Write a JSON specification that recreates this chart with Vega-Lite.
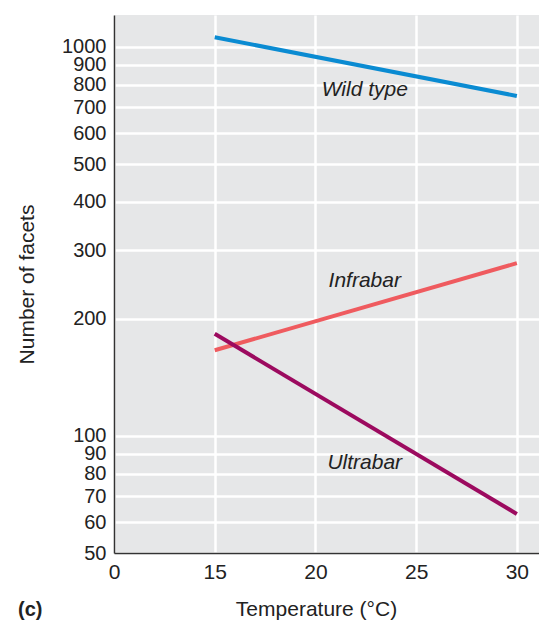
{
  "$schema": "https://vega.github.io/schema/vega-lite/v6.json",
  "width": 425,
  "height": 538,
  "autosize": {"type": "none"},
  "padding": {"left": 114, "top": 15, "right": 0, "bottom": 71},
  "background": "white",
  "config": {
    "font": "Liberation Sans",
    "view": {"fill": "#e6e7e8", "stroke": null},
    "axis": {"labelFont": "Liberation Sans", "titleFont": "Liberation Sans"}
  },
  "title": {
    "text": "(c)",
    "orient": "bottom",
    "anchor": "start",
    "frame": "bounds",
    "fontSize": 20,
    "fontWeight": "bold",
    "color": "#222",
    "offset": 0,
    "dy": -19,
    "dx": 2
  },
  "datasets": {
    "lines": [
      {"series": "Wild type", "temp": 15, "facets": 1059},
      {"series": "Wild type", "temp": 30, "facets": 748},
      {"series": "Infrabar", "temp": 15, "facets": 166},
      {"series": "Infrabar", "temp": 30, "facets": 278},
      {"series": "Ultrabar", "temp": 15, "facets": 183},
      {"series": "Ultrabar", "temp": 30, "facets": 63}
    ],
    "labels": [
      {"series": "Wild type", "temp": 22.45, "facets": 775},
      {"series": "Infrabar", "temp": 22.45, "facets": 250},
      {"series": "Ultrabar", "temp": 22.45, "facets": 85}
    ]
  },
  "layer": [
    {
      "data": {"name": "lines"},
      "mark": {"type": "line", "strokeWidth": 4, "strokeCap": "butt"},
      "encoding": {
        "x": {
          "field": "temp",
          "type": "quantitative",
          "scale": {"domain": [10, 31.1], "nice": false, "zero": false},
          "axis": {
            "values": [10, 15, 20, 25, 30],
            "labelExpr": "datum.value == 10 ? '0' : datum.label",
            "labelFlush": false,
            "labelOverlap": false,
            "title": "Temperature (°C)",
            "titleFontSize": 21,
            "titleFontWeight": "normal",
            "titleColor": "#222",
            "titleX": 202,
            "titleY": 56,
            "titleAlign": "center",
            "titleBaseline": "middle",
            "labelFontSize": 21,
            "labelColor": "#222",
            "labelPadding": 8,
            "ticks": false,
            "domainColor": "#333",
            "domainWidth": 1.5,
            "grid": true,
            "gridColor": "white",
            "gridWidth": 2.5,
            "gridOpacity": 1
          }
        },
        "y": {
          "field": "facets",
          "type": "quantitative",
          "scale": {"type": "log", "domain": [50, 1208], "nice": false},
          "axis": {
            "values": [50, 60, 70, 80, 90, 100, 200, 300, 400, 500, 600, 700, 800, 900, 1000],
            "format": "d",
            "labelOverlap": false,
            "labelFlush": false,
            "title": "Number of facets",
            "titleFontSize": 21,
            "titleFontWeight": "normal",
            "titleColor": "#222",
            "titleX": -87,
            "titleY": 269,
            "titleAlign": "center",
            "titleBaseline": "middle",
            "labelFontSize": 20,
            "labelColor": "#222",
            "labelPadding": 8,
            "ticks": false,
            "domainColor": "#333",
            "domainWidth": 1.5,
            "grid": true,
            "gridColor": "white",
            "gridWidth": 2.5,
            "gridOpacity": 1
          }
        },
        "color": {
          "field": "series",
          "type": "nominal",
          "scale": {"domain": ["Wild type", "Infrabar", "Ultrabar"], "range": ["#0a8bd2", "#ef5b5f", "#9c0a5f"]},
          "legend": null
        }
      }
    },
    {
      "data": {"name": "labels"},
      "mark": {"type": "text", "fontSize": 21, "fontStyle": "italic", "color": "#222", "align": "center", "baseline": "middle"},
      "encoding": {
        "x": {"field": "temp", "type": "quantitative"},
        "y": {"field": "facets", "type": "quantitative"},
        "text": {"field": "series"}
      }
    }
  ]
}
